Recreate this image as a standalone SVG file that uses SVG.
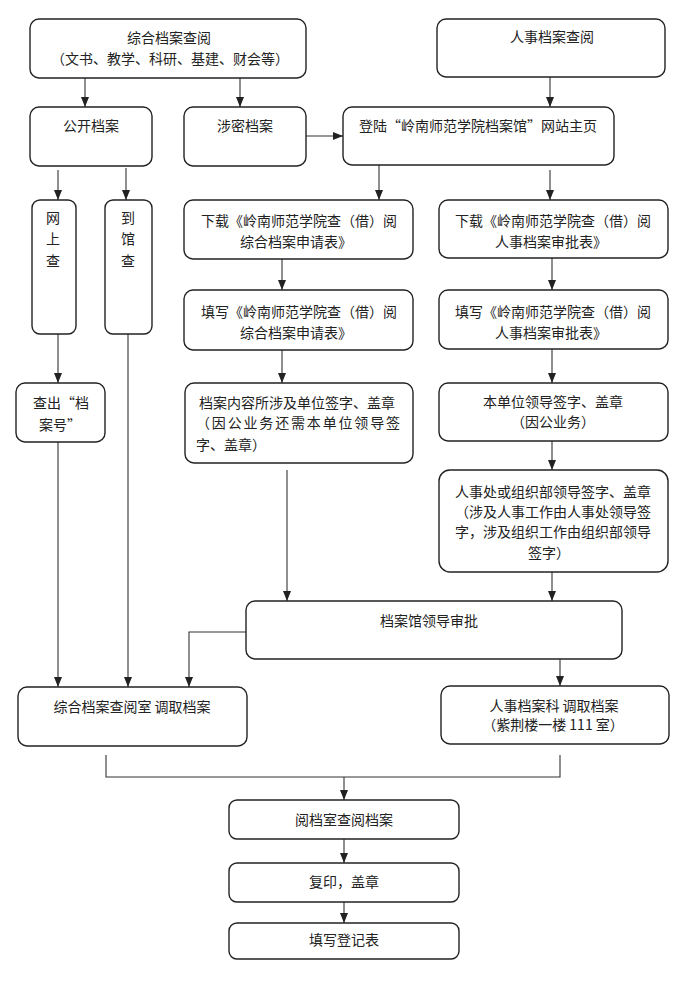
<svg xmlns="http://www.w3.org/2000/svg" width="692" height="985" viewBox="0 0 692 985">
<style>
.b{fill:#fff;stroke:#222;stroke-width:1.4}
.t{font-family:"Noto Sans CJK SC","Liberation Sans",sans-serif;font-size:14px;fill:#222;text-anchor:middle}
.l{text-anchor:start}
.c{fill:none;stroke:#333;stroke-width:1.1}
</style>
<defs>
<marker id="ah" markerUnits="userSpaceOnUse" markerWidth="10" markerHeight="8" refX="10" refY="4" orient="auto" viewBox="0 0 10 8">
<path d="M0,0 L10,4 L0,8 z" fill="#222"/>
</marker>
</defs>
<rect width="692" height="985" fill="#fff"/>

<g id="connectors">
<path class="c" d="M85,78 V107" marker-end="url(#ah)"/>
<path class="c" d="M240,78 V107" marker-end="url(#ah)"/>
<path class="c" d="M550,77 V107" marker-end="url(#ah)"/>
<path class="c" d="M306,136 H343" marker-end="url(#ah)"/>
<path class="c" d="M58,170 V200" marker-end="url(#ah)"/>
<path class="c" d="M126,168 V200" marker-end="url(#ah)"/>
<path class="c" d="M379,165 V200" marker-end="url(#ah)"/>
<path class="c" d="M550,170 V200" marker-end="url(#ah)"/>
<path class="c" d="M282,259 V290" marker-end="url(#ah)"/>
<path class="c" d="M282,350 V383" marker-end="url(#ah)"/>
<path class="c" d="M552,258 V290" marker-end="url(#ah)"/>
<path class="c" d="M552,349 V383" marker-end="url(#ah)"/>
<path class="c" d="M552,441 V470" marker-end="url(#ah)"/>
<path class="c" d="M552,572 V601" marker-end="url(#ah)"/>
<path class="c" d="M287,470 V601" marker-end="url(#ah)"/>
<path class="c" d="M58,334 V383" marker-end="url(#ah)"/>
<path class="c" d="M58,442 V687" marker-end="url(#ah)"/>
<path class="c" d="M128,334 V687" marker-end="url(#ah)"/>
<path class="c" d="M246,632 H189 V687" marker-end="url(#ah)"/>
<path class="c" d="M560,659 V686" marker-end="url(#ah)"/>
<path class="c" d="M106,755 V777 H560 V755"/>
<path class="c" d="M344,777 V800" marker-end="url(#ah)"/>
<path class="c" d="M344,839 V863" marker-end="url(#ah)"/>
<path class="c" d="M344,902 V923" marker-end="url(#ah)"/>
</g>

<g id="n-zonghe">
<rect class="b" x="30" y="19" width="276" height="59" rx="9"/>
<text class="t" x="169" y="43">综合档案查阅</text>
<text class="t" x="170" y="64">（文书、教学、科研、基建、财会等）</text>
</g>
<g id="n-renshi">
<rect class="b" x="437" y="19" width="228" height="58" rx="9"/>
<text class="t" x="552" y="42">人事档案查阅</text>
</g>
<g id="n-gongkai">
<rect class="b" x="30" y="107" width="122" height="59" rx="9"/>
<text class="t" x="91" y="131">公开档案</text>
</g>
<g id="n-shemi">
<rect class="b" x="184" y="107" width="122" height="59" rx="9"/>
<text class="t" x="245" y="131">涉密档案</text>
</g>
<g id="n-denglu">
<rect class="b" x="343" y="107" width="271" height="58" rx="9"/>
<text class="t" x="478" y="131">登陆“岭南师范学院档案馆”网站主页</text>
</g>
<g id="n-wangshang">
<rect class="b" x="32" y="200" width="44" height="134" rx="8"/>
<text class="t" x="53" y="223">网</text>
<text class="t" x="53" y="244">上</text>
<text class="t" x="53" y="266">查</text>
</g>
<g id="n-daoguan">
<rect class="b" x="105" y="200" width="47" height="134" rx="8"/>
<text class="t" x="128" y="223">到</text>
<text class="t" x="128" y="244">馆</text>
<text class="t" x="128" y="266">查</text>
</g>
<g id="n-chachu">
<rect class="b" x="16" y="383" width="89" height="59" rx="9"/>
<text class="t" x="61" y="408">查出“档</text>
<text class="t" x="60" y="430">案号”</text>
</g>
<g id="n-xiazai1">
<rect class="b" x="184" y="200" width="229" height="59" rx="9"/>
<text class="t" x="299" y="226">下载《岭南师范学院查（借）阅</text>
<text class="t" x="296" y="247">综合档案申请表》</text>
</g>
<g id="n-tianxie1">
<rect class="b" x="184" y="290" width="229" height="60" rx="9"/>
<text class="t" x="299" y="317">填写《岭南师范学院查（借）阅</text>
<text class="t" x="296" y="338">综合档案申请表》</text>
</g>
<g id="n-neirong">
<rect class="b" x="185" y="383" width="228" height="80" rx="9"/>
<text class="t l" x="199" y="408">档案内容所涉及单位签字、盖章</text>
<text class="t l" x="196" y="428" textLength="204" lengthAdjust="spacing">（因公业务还需本单位领导签</text>
<text class="t l" x="196" y="450">字、盖章）</text>
</g>
<g id="n-xiazai2">
<rect class="b" x="439" y="200" width="229" height="58" rx="9"/>
<text class="t" x="553" y="226">下载《岭南师范学院查（借）阅</text>
<text class="t" x="551" y="247">人事档案审批表》</text>
</g>
<g id="n-tianxie2">
<rect class="b" x="439" y="290" width="229" height="59" rx="9"/>
<text class="t" x="553" y="317">填写《岭南师范学院查（借）阅</text>
<text class="t" x="551" y="338">人事档案审批表》</text>
</g>
<g id="n-danwei">
<rect class="b" x="439" y="383" width="229" height="58" rx="9"/>
<text class="t" x="553" y="407">本单位领导签字、盖章</text>
<text class="t" x="553" y="427">（因公业务）</text>
</g>
<g id="n-renshichu">
<rect class="b" x="439" y="470" width="229" height="102" rx="11"/>
<text class="t" x="553" y="497">人事处或组织部领导签字、盖章</text>
<text class="t" x="553" y="517">（涉及人事工作由人事处领导签</text>
<text class="t" x="553" y="537">字，涉及组织工作由组织部领导</text>
<text class="t" x="549" y="558">签字）</text>
</g>
<g id="n-guanlingdao">
<rect class="b" x="246" y="601" width="376" height="58" rx="9"/>
<text class="t" x="429" y="626">档案馆领导审批</text>
</g>
<g id="n-chayueshi">
<rect class="b" x="18" y="687" width="229" height="59" rx="9"/>
<text class="t" x="132" y="712">综合档案查阅室  调取档案</text>
</g>
<g id="n-renshike">
<rect class="b" x="441" y="686" width="228" height="58" rx="9"/>
<text class="t" x="554" y="711">人事档案科  调取档案</text>
<text class="t" x="553" y="730">（紫荆楼一楼 111 室）</text>
</g>
<g id="n-yuedang">
<rect class="b" x="229" y="800" width="230" height="39" rx="8"/>
<text class="t" x="344" y="825">阅档室查阅档案</text>
</g>
<g id="n-fuyin">
<rect class="b" x="229" y="863" width="230" height="39" rx="8"/>
<text class="t" x="344" y="887">复印，盖章</text>
</g>
<g id="n-dengji">
<rect class="b" x="229" y="923" width="230" height="36" rx="8"/>
<text class="t" x="344" y="945">填写登记表</text>
</g>
</svg>
